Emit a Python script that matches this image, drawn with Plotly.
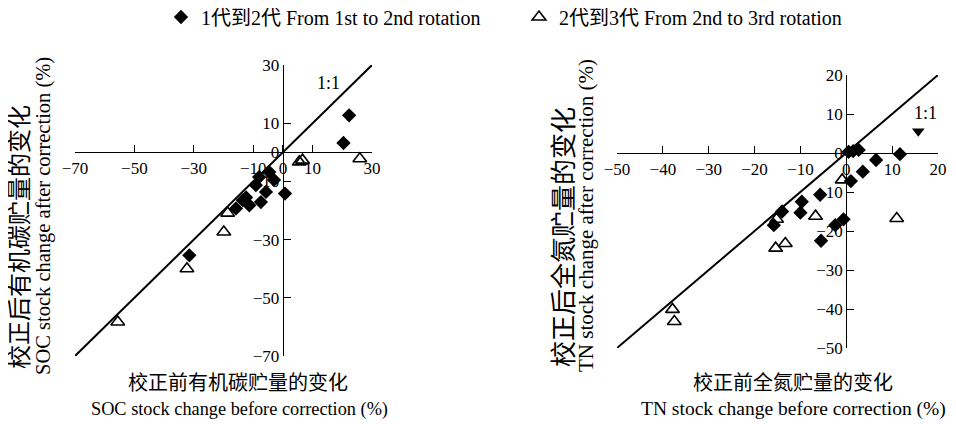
import plotly.graph_objects as go

# ---- Data (SOC, left panel) ----
soc_r12_before = [22.3, 20.4, 0.7, -4.6, -3.0, -8.0, -9.1, -5.7, -7.4, -11.3, -13.5, -15.8, -12.4, -31.5]
soc_r12_after = [12.7, 3.2, -14.2, -6.8, -9.5, -8.5, -11.3, -13.6, -17.1, -18.2, -16.5, -19.3, -15.5, -35.4]
soc_r23_before = [-55.6, -32.3, -19.9, -18.6, 5.5, 6.6, 25.9]
soc_r23_after = [-58.3, -40.0, -27.4, -20.9, -3.3, -2.7, -2.2]
soc_line = [-70, 30]

# ---- Data (TN, right panel) ----
tn_r12_before = [15.7, 11.7, 0.5, 2.7, 1.5, 6.5, 3.6, 1.0, -5.7, -9.7, -10.0, -14.0, -15.8, -0.6, -2.4, -5.5]
tn_r12_after = [5.6, -0.3, 0.3, 0.8, 0.5, -1.8, -4.8, -7.2, -10.7, -12.5, -15.3, -15.0, -18.5, -17.0, -18.5, -22.5]
tn_r23_before = [-37.9, -37.5, -15.4, -13.3, -15.2, -6.7, -0.9, 11.0]
tn_r23_after = [-40.1, -43.2, -24.4, -23.2, -17.0, -16.2, -6.9, -16.8]
tn_line = [-50, 20]

soc_ticks = [-70, -50, -30, -10, 0, 10, 30]
tn_ticks = [-50, -40, -30, -20, -10, 0, 10, 20]

legend_r12 = "1代到2代 From 1st to 2nd rotation"
legend_r23 = "2代到3代 From 2nd to 3rd rotation"

FONT = "Liberation Serif, Noto Sans CJK SC, serif"
# page body has an 8px margin: the figure starts 8px in from the window's top-left
OFF = 8
W, H = 956 - OFF, 424 - OFF

def fx(px):  # window pixel x -> paper fraction
    return (px - OFF) / W

def fy(py):  # window pixel y -> paper fraction
    return 1 - (py - OFF) / H

lx = [fx(75), fx(372)]
ly = [fy(356), fy(65)]
rx = [fx(617), fx(938)]
ry = [fy(348), fy(75)]

fig = go.Figure()

dia = dict(symbol="diamond", size=11, color="black", line=dict(width=0))
tri = dict(symbol="triangle-up-open", size=12, color="black", line=dict(width=1.6, color="black"))

# 1:1 lines
fig.add_trace(go.Scatter(x=soc_line, y=soc_line, mode="lines", line=dict(color="black", width=2),
                         showlegend=False, xaxis="x", yaxis="y", hoverinfo="skip"))
fig.add_trace(go.Scatter(x=tn_line, y=tn_line, mode="lines", line=dict(color="black", width=2),
                         showlegend=False, xaxis="x2", yaxis="y2", hoverinfo="skip"))

fig.add_trace(go.Scatter(x=soc_r12_before, y=soc_r12_after, mode="markers", marker=dia,
                         name=legend_r12, legendgroup="a", xaxis="x", yaxis="y"))
fig.add_trace(go.Scatter(x=soc_r23_before, y=soc_r23_after, mode="markers", marker=tri,
                         name=legend_r23, legendgroup="b", xaxis="x", yaxis="y"))

tn_symbols = ["triangle-down"] + ["diamond"] * (len(tn_r12_before) - 1)
fig.add_trace(go.Scatter(x=tn_r12_before, y=tn_r12_after, mode="markers",
                         marker=dict(symbol=tn_symbols, size=11, color="black", line=dict(width=0)),
                         name=legend_r12, legendgroup="a", showlegend=False, xaxis="x2", yaxis="y2"))
fig.add_trace(go.Scatter(x=tn_r23_before, y=tn_r23_after, mode="markers", marker=tri,
                         name=legend_r23, legendgroup="b", showlegend=False, xaxis="x2", yaxis="y2"))

def frac(v, lo, hi, dom):
    return dom[0] + (v - lo) / (hi - lo) * (dom[1] - dom[0])

axis_common = dict(showgrid=False, zeroline=False, showline=True, linecolor="black", linewidth=1.3,
                   ticks="inside", ticklen=7, tickwidth=1.2, tickcolor="black", automargin=False,
                   tickfont=dict(family=FONT, size=17, color="black"), anchor="free")

fig.update_layout(
    width=W, height=H, margin=dict(l=0, r=0, t=0, b=0, autoexpand=False),
    paper_bgcolor="white", plot_bgcolor="white",
    font=dict(family=FONT, color="black"),
    xaxis=dict(domain=lx, range=[-70, 30], tickvals=soc_ticks,
               position=frac(0, -70, 30, ly), side="bottom", **axis_common),
    yaxis=dict(domain=ly, range=[-70, 30], tickvals=soc_ticks,
               position=frac(0, -70, 30, lx), side="left", **axis_common),
    xaxis2=dict(domain=rx, range=[-50, 20], tickvals=tn_ticks,
                position=frac(0, -50, 20, ry), side="bottom", **axis_common),
    yaxis2=dict(domain=ry, range=[-50, 20], tickvals=tn_ticks,
                position=frac(0, -50, 20, rx), side="left", **axis_common),
    legend=dict(orientation="h", x=fx(161), xanchor="left", y=fy(17), yanchor="middle",
                font=dict(family=FONT, size=20, color="black"), bgcolor="rgba(0,0,0,0)",
                itemwidth=30, entrywidth=313),
)

ann = [
    dict(text="1:1", x=15.5, y=23.7, xref="x", yref="y", size=18),
    dict(text="1:1", x=17.2, y=10.3, xref="x2", yref="y2", size=18),
]
for a in ann:
    fig.add_annotation(text=a["text"], x=a["x"], y=a["y"], xref=a["xref"], yref=a["yref"],
                       showarrow=False, font=dict(family=FONT, size=a["size"], color="black"))

titles = [
    ("校正前有机碳贮量的变化", 238, 383, 0, 20),
    ("SOC stock change before correction (%)", 239, 409, 0, 18.3),
    ("校正前全氮贮量的变化", 793, 383, 0, 20),
    ("TN stock change before correction (%)", 793, 409, 0, 19.5),
    ("校正后有机碳贮量的变化", 20, 237, -90, 24),
    ("SOC stock change after correction (%)", 43, 216, -90, 20.5),
    ("校正后全氮贮量的变化", 564, 237, -90, 26),
    ("TN stock change after correction (%)", 586, 216, -90, 21),
]
for t, px, py, ang, sz in titles:
    fig.add_annotation(text=t, x=fx(px), y=fy(py), xref="paper", yref="paper",
                       xanchor="center", yanchor="middle", showarrow=False, textangle=ang,
                       font=dict(family=FONT, size=sz, color="black"))

fig.write_html("out.html")
